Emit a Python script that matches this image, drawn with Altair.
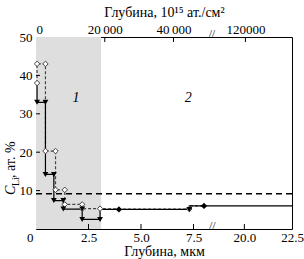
import altair as alt
import pandas as pd

# ---------------- data ----------------
# solid profile (filled down-triangles)
solid_depth = [0.05, 0.05, 0.45, 0.45, 0.85, 0.85, 1.3, 1.3, 2.2, 2.2, 3.05, 3.05, 3.95, 7.3, 7.3, 8.0, 22.5]
solid_conc = [38, 33, 33, 14.2, 14.2, 7.4, 7.4, 5.2, 5.2, 2.5, 2.5, 5.1, 5.1, 5.1, 6.0, 6.0, 6.0]
tri_depth = [0.05, 0.45, 0.45, 0.85, 0.85, 1.3, 1.3, 2.2, 2.2, 3.05, 7.3]
tri_conc = [33, 33, 14.2, 14.2, 7.4, 7.4, 5.2, 5.2, 2.5, 2.5, 5.1]

# dashed profile (open diamonds)
dash_depth = [0.05, 0.05, 0.45, 0.45, 0.93, 0.93, 1.37, 1.37, 2.2, 2.2, 3.05, 3.95, 7.3, 7.3, 8.0]
dash_conc = [38, 43, 43, 20.3, 20.3, 10.2, 10.2, 6.4, 6.4, 5.3, 5.3, 5.2, 5.2, 6.0, 6.0]
dia_depth = [0.05, 0.05, 0.45, 0.45, 0.93, 0.93, 1.37, 1.37, 2.2, 2.2, 3.05, 7.3]
dia_conc = [38, 43, 43, 20.3, 20.3, 10.2, 10.2, 6.4, 6.4, 5.3, 5.3, 5.2]

# filled black points
dot_depth = [3.95, 8.0]
dot_conc = [5.1, 6.0]

threshold = [9.2]
zone_depth = [0, 3.1]
zone_names = ["1", "2"]
zone_x = [1.9, 7.25]
zone_y = [34, 34]

bottom_ticks = [0, 2.5, 5, 7.5, 20, 22.5]
top_ticks = [0, 20000, 40000, 120000]
y_ticks = [0, 10, 20, 30, 40, 50]

# ---------------- scales / axes ----------------
FONT = "Liberation Serif"
W, H = 256, 192

xb_scale = alt.Scale(domain=[0, 8.4, 19.0, 22.5], range=[0, 176.4, 189.3, W], nice=False, zero=False)
xt_scale = alt.Scale(domain=[0, 51200, 115000, 132000], range=[0, 176, 190, W], nice=False, zero=False)
y_scale = alt.Scale(domain=[0, 50], nice=False, zero=False)

AX = dict(labelFont=FONT, titleFont=FONT, labelFontSize=13, titleFontSize=14,
          titleFontWeight="normal", labelColor="black", titleColor="black")

bottom_axis = alt.Axis(
    orient="bottom", values=bottom_ticks, ticks=False, domain=False, grid=False,
    labelExpr="datum.value == 0 ? '0' : format(datum.value, '.1f')",
    labelAlign={"condition": {"test": "datum.value == 0", "value": "right"}, "value": "center"},
    labelOffset={"condition": {"test": "datum.value == 0", "value": -3}, "value": 0},
    labelPadding=2, title="Глубина, мкм", titlePadding=0, **AX,
)
top_axis = alt.Axis(
    orient="top", values=top_ticks, ticks=False, domain=False, grid=False,
    labelExpr="datum.value == 20000 ? '20\u2009000' : datum.value == 40000 ? '40\u2009000' : format(datum.value, 'd')",
    labelPadding=1, title="Глубина, 10¹⁵ ат./см²", titlePadding=4, **AX,
)
y_axis = alt.Axis(values=y_ticks, ticks=False, domain=False, grid=False,
                  labelPadding=4, title=None,
                  labelExpr="datum.value == 0 ? '' : datum.label", **AX)


def X(field):
    return alt.X(field, type="quantitative", scale=xb_scale, axis=bottom_axis)


def XT(field):
    return alt.X(field, type="quantitative", scale=xt_scale, axis=top_axis)


def Y(field):
    return alt.Y(field, type="quantitative", scale=y_scale, axis=y_axis)


# ---------------- frames ----------------
solid_df = pd.DataFrame({"d": solid_depth, "c": solid_conc, "i": range(len(solid_depth))})
dash_df = pd.DataFrame({"d": dash_depth, "c": dash_conc, "i": range(len(dash_depth))})
tri_df = pd.DataFrame({"d": tri_depth, "c": tri_conc})
dia_df = pd.DataFrame({"d": dia_depth, "c": dia_conc})
dot_df = pd.DataFrame({"d": dot_depth, "c": dot_conc})
zone_df = pd.DataFrame({"d": [zone_depth[0]], "d2": [zone_depth[1]], "c": [0], "c2": [50]})
thr_df = pd.DataFrame({"c": threshold})
lab_df = pd.DataFrame({"d": zone_x, "c": zone_y, "t": zone_names})
ytick_df = pd.DataFrame({"c": [v for v in y_ticks if 0 < v < 50]})
btick_df = pd.DataFrame({"d": [v for v in bottom_ticks if 0 < v < 22.5]})
ttick_df = pd.DataFrame({"d": [v for v in top_ticks if v > 0]})
bbreak_df = pd.DataFrame({"d": [8.4], "t": ["//"]})
tbreak_df = pd.DataFrame({"d": [51200], "t": ["//"]})

zone = alt.Chart(zone_df).mark_rect(color="#dedede").encode(
    x=X("d"), x2="d2", y=Y("c"), y2="c2")

thr = alt.Chart(thr_df).mark_rule(color="black", strokeDash=[6, 4], strokeWidth=1.5).encode(y=Y("c"))

dash_line = alt.Chart(dash_df).mark_line(color="#444444", strokeDash=[3, 2], strokeWidth=1.2).encode(
    x=X("d"), y=Y("c"), order="i:Q")
solid_line = alt.Chart(solid_df).mark_line(color="black", strokeWidth=1.2).encode(
    x=X("d"), y=Y("c"), order="i:Q")

tris = alt.Chart(tri_df).mark_point(shape="triangle-down", filled=True, color="black", size=34, opacity=1).encode(
    x=X("d"), y=Y("c"))
dias = alt.Chart(dia_df).mark_point(shape="diamond", filled=True, fill="white", stroke="#444444",
                                     strokeWidth=1, size=30, opacity=1).encode(x=X("d"), y=Y("c"))
dots = alt.Chart(dot_df).mark_point(shape="diamond", filled=True, color="black", size=40, opacity=1).encode(
    x=X("d"), y=Y("c"))

labels = alt.Chart(lab_df).mark_text(font=FONT, fontSize=14, fontStyle="italic", color="black").encode(
    x=X("d"), y=Y("c"), text="t")

yticks = alt.Chart(ytick_df).mark_rule(color="black").encode(
    y=Y("c"), x=alt.value(0), x2=alt.value(4))
bticks = alt.Chart(btick_df).mark_rule(color="black").encode(
    x=X("d"), y=alt.value(H), y2=alt.value(H - 5))
bbreak = alt.Chart(bbreak_df).mark_text(font=FONT, fontSize=11, color="black", baseline="middle").encode(
    x=X("d"), y=alt.value(H - 3), text="t")

# y-axis title built from pieces (C with subscript Li)
yt_c = alt.Chart(pd.DataFrame({"t": ["C"]})).mark_text(
    font=FONT, fontSize=14, fontStyle="italic", angle=270, align="left", baseline="alphabetic", color="black"
).encode(x=alt.value(-21), y=alt.value(158), text="t")
yt_li = alt.Chart(pd.DataFrame({"t": ["Li"]})).mark_text(
    font=FONT, fontSize=10, angle=270, align="left", baseline="alphabetic", color="black"
).encode(x=alt.value(-17), y=alt.value(149), text="t")
yt_rest = alt.Chart(pd.DataFrame({"t": [", ат. %"]})).mark_text(
    font=FONT, fontSize=14, angle=270, align="left", baseline="alphabetic", color="black"
).encode(x=alt.value(-21), y=alt.value(141), text="t")

bottom = alt.layer(zone, thr, dash_line, solid_line, dias, tris, dots, labels, yticks, bticks, bbreak,
                   yt_c, yt_li, yt_rest)

tticks = alt.Chart(ttick_df).mark_rule(color="black").encode(
    x=XT("d"), y=alt.value(0), y2=alt.value(5))
tbreak = alt.Chart(tbreak_df).mark_text(font=FONT, fontSize=11, color="black", baseline="middle").encode(
    x=XT("d"), y=alt.value(-3), text="t")
top = alt.layer(tticks, tbreak)

chart = alt.layer(bottom, top).resolve_scale(x="independent").properties(
    width=W, height=H,
    autosize=alt.AutoSizeParams(type="none"),
    padding={"left": 36, "top": 37, "right": 12, "bottom": 30},
).configure_view(stroke="black", strokeWidth=1)

chart.save("out.html", embed_options={"renderer": "svg", "actions": False})
